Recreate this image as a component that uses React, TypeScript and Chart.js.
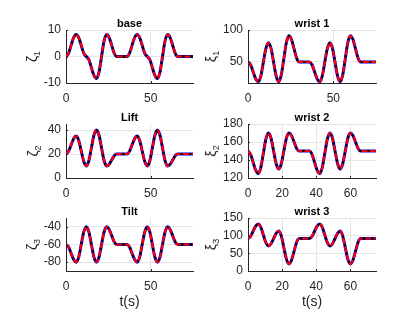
import React, { useEffect, useRef } from "react";
import { Chart, registerables } from "chart.js";

Chart.register(...registerables);

// ---- data ----
const timeS = [0, 1.5, 3, 4.5, 6, 7.5, 9, 10.5, 12, 13.5, 15, 16.5, 18, 19.5, 21, 22.5, 24, 25.5, 27, 28.5, 30, 31.5, 33, 34.5, 36, 37.5, 39, 40.5, 42, 43.5, 45, 46.5, 48, 49.5, 51, 52.5, 54, 55.5, 57, 58.5, 60, 61.5, 63, 64.5, 66, 75];

const baseVals = [0, 1.2, 4.2, 7.1, 8.3, 7.1, 4.2, 1.2, 0, -1.2, -4.2, -7.1, -8.3, -5.9, 0, 5.9, 8.3, 7.1, 4.2, 1.2, 0, 0, 0, 0, 0, 1.2, 4.2, 7.1, 8.3, 7.1, 4.2, 1.2, 0, -1.2, -4.2, -7.1, -8.3, -5.9, 0, 5.9, 8.3, 7.1, 4.2, 1.2, 0, 0];
const liftVals = [20, 22.2, 27.5, 32.8, 35, 31.3, 22.5, 13.7, 10, 14.4, 25, 35.6, 40, 35.6, 25, 14.4, 10, 11.5, 15, 18.5, 20, 20, 20, 20, 20, 22.2, 27.5, 32.8, 35, 31.3, 22.5, 13.7, 10, 14.4, 25, 35.6, 40, 35.6, 25, 14.4, 10, 11.5, 15, 18.5, 20, 20];
const tiltVals = [-60, -62.9, -70, -77.1, -80, -74.2, -60, -45.8, -40, -45.8, -60, -74.2, -80, -74.2, -60, -45.8, -40, -42.9, -50, -57.1, -60, -60, -60, -60, -60, -62.9, -70, -77.1, -80, -74.2, -60, -45.8, -40, -45.8, -60, -74.2, -80, -74.2, -60, -45.8, -40, -42.9, -50, -57.1, -60, -60];
const wrist1Vals = [50, 45.5, 34.5, 23.5, 19, 27.9, 49.5, 71.1, 80, 71.1, 49.5, 27.9, 19, 29.5, 55, 80.5, 91, 85, 70.5, 56, 50, 50, 50, 50, 50, 45.5, 34.5, 23.5, 19, 27.9, 49.5, 71.1, 80, 71.1, 49.5, 27.9, 19, 29.5, 55, 80.5, 91, 85, 70.5, 56, 50, 50];
const wrist2Vals = [150, 146.3, 137.5, 128.7, 125, 131.6, 147.5, 163.4, 170, 164.2, 150, 135.8, 130, 135.8, 150, 164.2, 170, 167.1, 160, 152.9, 150, 150, 150, 150, 150, 146.3, 137.5, 128.7, 125, 131.6, 147.5, 163.4, 170, 164.2, 150, 135.8, 130, 135.8, 150, 164.2, 170, 167.1, 160, 152.9, 150, 150];
const wrist3Vals = [92, 98, 112.5, 127, 133, 124, 102, 80, 71, 77.1, 92, 106.9, 113, 99.4, 66.5, 33.6, 20, 30.5, 56, 81.5, 92, 92, 92, 92, 92, 98, 112.5, 127, 133, 124, 102, 80, 71, 77.1, 92, 106.9, 113, 99.4, 66.5, 33.6, 20, 30.5, 56, 81.5, 92, 92];

const xTicksA = [0, 50];
const xTicksB = [0, 20, 40, 60];
const baseTicks = [-10, 0, 10];
const liftTicks = [0, 20, 40];
const tiltTicks = [-80, -60, -40];
const wrist1Ticks = [50, 100];
const wrist2Ticks = [120, 140, 160, 180];
const wrist3Ticks = [0, 50, 100, 150];

const FONT = "'Liberation Sans', Arial, Helvetica, sans-serif";
const TXT = "#262626";

type PanelCfg = {
  title: string;
  sym: string;
  sub: string;
  values: number[];
  yMin: number;
  yMax: number;
  yTicks: number[];
  xTicks: number[];
  axL: number;
  axT: number;
  axW: number;
  axH: number;
  labelOff: number;
  xLabel: boolean;
};

const PAD_L = 60;
const PAD_T = 25;
const PAD_R = 8;
const BOT_H = 40;

function Panel({ cfg }: { cfg: PanelCfg }) {
  const ref = useRef<HTMLCanvasElement>(null);
  const w = cfg.axW + PAD_L + PAD_R;
  const h = cfg.axH + PAD_T + BOT_H;

  useEffect(() => {
    const mkPts = () => timeS.map((t, i) => ({ x: t, y: cfg.values[i] }));
    const labels = {
      id: "labels",
      afterDraw(chart: any) {
        const { ctx, chartArea } = chart;
        const { left, right, top, bottom } = chartArea;
        const cx = (left + right) / 2;
        ctx.save();
        ctx.strokeStyle = TXT;
        ctx.lineWidth = 1;
        const xs = chart.scales.x;
        const ys = chart.scales.y;
        cfg.xTicks.forEach((v) => {
          const p = Math.round(xs.getPixelForValue(v)) + 0.5;
          ctx.beginPath();
          ctx.moveTo(p, bottom);
          ctx.lineTo(p, bottom - 2);
          ctx.stroke();
        });
        cfg.yTicks.forEach((v) => {
          const p = Math.round(ys.getPixelForValue(v)) + 0.5;
          ctx.beginPath();
          ctx.moveTo(left, p);
          ctx.lineTo(left + 2, p);
          ctx.stroke();
        });
        ctx.fillStyle = "#000";
        ctx.font = `bold 11px ${FONT}`;
        ctx.textAlign = "center";
        ctx.textBaseline = "middle";
        ctx.fillText(cfg.title, cx, top - 6.5);
        ctx.fillStyle = TXT;
        ctx.translate(left - cfg.labelOff, (top + bottom) / 2);
        ctx.rotate(-Math.PI / 2);
        ctx.font = `14px ${FONT}`;
        const w1 = ctx.measureText(cfg.sym).width;
        ctx.font = `9px ${FONT}`;
        const w2 = ctx.measureText(cfg.sub).width;
        const x0 = -(w1 + w2) / 2;
        ctx.textAlign = "left";
        ctx.textBaseline = "alphabetic";
        ctx.font = `14px ${FONT}`;
        ctx.fillText(cfg.sym, x0, 4);
        ctx.font = `9px ${FONT}`;
        ctx.fillText(cfg.sub, x0 + w1, 7);
        ctx.restore();
        if (cfg.xLabel) {
          ctx.save();
          ctx.fillStyle = TXT;
          ctx.font = `14px ${FONT}`;
          ctx.textAlign = "center";
          ctx.textBaseline = "middle";
          ctx.fillText("t(s)", cx, bottom + 31);
          ctx.restore();
        }
      },
    };
    const line = (color: string, width: number, dash: number[], order: number) => ({
      data: mkPts(),
      borderColor: color,
      backgroundColor: color,
      borderWidth: width,
      borderDash: dash,
      pointRadius: 0,
      fill: false,
      order,
      cubicInterpolationMode: "monotone" as const,
    });
    const chart = new Chart(ref.current as HTMLCanvasElement, {
      type: "line",
      data: {
        // lower order is drawn on top in Chart.js
        datasets: [line("#ff0000", 2.2, [6, 2.5], 0), line("#000000", 1.8, [], 1), line("#0000ff", 3, [], 2)],
      },
      options: {
        animation: false,
        responsive: false,
        maintainAspectRatio: false,
        events: [],
        layout: { padding: { left: 0, top: PAD_T, right: PAD_R, bottom: 0 } },
        plugins: { legend: { display: false }, tooltip: { enabled: false }, title: { display: false } },
        scales: {
          x: {
            type: "linear",
            min: 0,
            max: 75,
            afterBuildTicks: (s: any) => {
              s.ticks = cfg.xTicks.map((v) => ({ value: v }));
            },
            afterFit: (s: any) => {
              s.height = BOT_H;
            },
            grid: { color: "#e6e6e6", drawTicks: false, lineWidth: 1 },
            border: { display: true, color: TXT, width: 1 },
            ticks: { padding: 8, color: TXT, font: { family: FONT, size: 12 }, maxRotation: 0, autoSkip: false },
          },
          y: {
            type: "linear",
            min: cfg.yMin,
            max: cfg.yMax,
            afterBuildTicks: (s: any) => {
              s.ticks = cfg.yTicks.map((v) => ({ value: v }));
            },
            afterFit: (s: any) => {
              s.width = PAD_L;
            },
            grid: { color: "#e6e6e6", drawTicks: false, lineWidth: 1 },
            border: { display: true, color: TXT, width: 1 },
            ticks: { padding: 5, color: TXT, font: { family: FONT, size: 12 }, autoSkip: false },
          },
        },
      },
      plugins: [labels],
    });
    return () => chart.destroy();
  }, []);

  return (
    <canvas
      ref={ref}
      width={w}
      height={h}
      style={{ position: "absolute", left: cfg.axL - PAD_L, top: cfg.axT - PAD_T, width: w, height: h }}
    />
  );
}

const LX = 66;
const RX = 248;
const AW = 127;

const panels: PanelCfg[] = [
  { title: "base", sym: "ζ", sub: "1", values: baseVals, yMin: -10, yMax: 10, yTicks: baseTicks, xTicks: xTicksA, axL: LX, axT: 30, axW: AW, axH: 53, labelOff: 33.5, xLabel: false },
  { title: "wrist 1", sym: "ξ", sub: "1", values: wrist1Vals, yMin: 17, yMax: 100, yTicks: wrist1Ticks, xTicks: xTicksA, axL: RX, axT: 30, axW: AW + 1, axH: 53, labelOff: 36, xLabel: false },
  { title: "Lift", sym: "ζ", sub: "2", values: liftVals, yMin: 0, yMax: 45, yTicks: liftTicks, xTicks: xTicksA, axL: LX, axT: 124, axW: AW, axH: 54, labelOff: 32, xLabel: false },
  { title: "wrist 2", sym: "ξ", sub: "2", values: wrist2Vals, yMin: 120, yMax: 180, yTicks: wrist2Ticks, xTicks: xTicksB, axL: RX, axT: 124, axW: AW + 1, axH: 54, labelOff: 36, xLabel: false },
  { title: "Tilt", sym: "ζ", sub: "3", values: tiltVals, yMin: -90, yMax: -30, yTicks: tiltTicks, xTicks: xTicksA, axL: LX, axT: 218, axW: AW, axH: 53, labelOff: 33.5, xLabel: true },
  { title: "wrist 3", sym: "ξ", sub: "3", values: wrist3Vals, yMin: 0, yMax: 150, yTicks: wrist3Ticks, xTicks: xTicksB, axL: RX, axT: 218, axW: AW + 1, axH: 53, labelOff: 36.5, xLabel: true },
];

export default function App() {
  return (
    <div style={{ position: "absolute", left: 0, top: 0, width: 415, height: 312, background: "#fff", overflow: "hidden" }}>
      {panels.map((p, i) => (
        <Panel key={i} cfg={p} />
      ))}
    </div>
  );
}
